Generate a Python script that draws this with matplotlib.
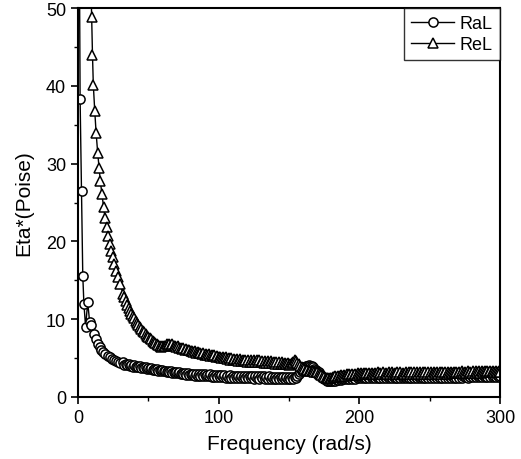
import matplotlib
matplotlib.use("Agg")
import matplotlib.pyplot as plt
from matplotlib.ticker import MultipleLocator

plt.rcParams['font.family'] = ['Liberation Sans', 'DejaVu Sans']

# ---------------- data ----------------
# sparse low-frequency points
ral_freq_low = [0.5, 1.5, 2.5, 3.4, 4.2, 5.4, 6.9, 8.3, 9.6, 11.6, 12.8, 14.0, 15.3,
                16.5, 18.0, 19.5, 21.0, 22.5, 24.0, 25.5, 27.0, 28.5, 30.0]
ral_eta_low = [75.0, 38.3, 26.5, 15.6, 12.0, 9.0, 12.2, 9.6, 9.3, 8.1, 7.5, 6.8, 6.4,
               6.1, 5.8, 5.5, 5.3, 5.1, 4.9, 4.75, 4.6, 4.5, 4.4]

rel_freq_low = [9.0, 9.7, 10.3, 10.9, 11.9, 12.9, 14.0, 15.0, 15.9, 17.0, 18.2, 19.3,
                20.4, 21.3, 22.5, 23.6, 24.7, 25.9, 27.3, 28.6, 30.0]
rel_eta_low = [55.0, 48.8, 44.0, 40.1, 36.8, 33.9, 31.4, 29.4, 27.7, 26.1, 24.4, 23.0,
               21.8, 20.7, 19.7, 18.8, 18.0, 17.1, 16.2, 15.4, 14.5]

# dense sweep 32 ... 300 rad/s (1 rad/s steps)
freq_dense = list(range(32, 301))

ral_eta_dense = [
    4.45, 4.15, 4.3, 4.05, 4.2, 3.95, 4.1, 3.9, 4.05, 3.85,      # 32-41
    3.95, 3.8, 3.95, 3.75, 3.85, 3.7, 3.8, 3.6, 3.75, 3.55,      # 42-51
    3.7, 3.5, 3.6, 3.45, 3.55, 3.4, 3.5, 3.3, 3.45, 3.3,         # 52-61
    3.4, 3.2, 3.35, 3.15, 3.3, 3.1, 3.25, 3.05, 3.2, 3.05,       # 62-71
    3.15, 2.95, 3.1, 2.9, 3.1, 2.85, 3.05, 2.85, 3.0, 2.8,       # 72-81
    3.0, 2.75, 2.95, 2.75, 2.95, 2.7, 2.9, 2.7, 2.9, 2.65,       # 82-91
    2.85, 2.65, 2.9, 2.6, 2.85, 2.6, 2.8, 2.55, 2.85, 2.55,      # 92-101
    2.8, 2.55, 2.8, 2.5, 2.75, 2.5, 2.8, 2.5, 2.75, 2.45,        # 102-111
    2.75, 2.45, 2.7, 2.45, 2.75, 2.4, 2.7, 2.45, 2.7, 2.4,       # 112-121
    2.7, 2.4, 2.65, 2.35, 2.7, 2.4, 2.65, 2.35, 2.65, 2.4,       # 122-131
    2.65, 2.35, 2.6, 2.35, 2.65, 2.3, 2.6, 2.35, 2.6, 2.3,       # 132-141
    2.6, 2.35, 2.6, 2.3, 2.6, 2.3, 2.55, 2.35, 2.6, 2.3,         # 142-151
    2.55, 2.35, 2.6, 2.5, 2.75, 2.9, 3.2, 3.4, 3.7, 3.8,         # 152-161
    4.0, 3.95, 4.1, 4.0, 3.95, 3.8, 3.65, 3.5, 3.3, 3.15,        # 162-171
    3.0, 2.8, 2.5, 2.3, 2.15, 2.05, 2.1, 2.0, 2.1, 2.05,         # 172-181
    2.15, 2.1, 2.2, 2.15, 2.3, 2.2, 2.35, 2.25, 2.4, 2.3,        # 182-191
    2.45, 2.3, 2.5, 2.35, 2.5, 2.35, 2.55, 2.4, 2.55, 2.4,       # 192-201
    2.6, 2.4, 2.6, 2.45, 2.6, 2.4, 2.65, 2.45, 2.6, 2.45,        # 202-211
    2.65, 2.45, 2.6, 2.4, 2.65, 2.45, 2.6, 2.45, 2.65, 2.4,      # 212-221
    2.6, 2.45, 2.65, 2.4, 2.6, 2.45, 2.6, 2.4, 2.65, 2.45,       # 222-231
    2.6, 2.4, 2.6, 2.45, 2.65, 2.45, 2.6, 2.4, 2.6, 2.45,        # 232-241
    2.65, 2.45, 2.6, 2.4, 2.65, 2.45, 2.6, 2.45, 2.65, 2.45,     # 242-251
    2.65, 2.45, 2.7, 2.45, 2.65, 2.5, 2.7, 2.45, 2.65, 2.5,      # 252-261
    2.7, 2.5, 2.7, 2.45, 2.7, 2.5, 2.75, 2.5, 2.7, 2.5,          # 262-271
    2.75, 2.5, 2.7, 2.55, 2.75, 2.5, 2.75, 2.55, 2.7, 2.55,      # 272-281
    2.75, 2.55, 2.8, 2.55, 2.75, 2.55, 2.8, 2.6, 2.75, 2.55,     # 282-291
    2.8, 2.6, 2.8, 2.6, 2.75, 2.6, 2.8, 2.6, 2.75,               # 292-300
]

rel_eta_dense = [
    13.3, 12.8, 12.3, 11.8, 11.4, 11.0, 10.7, 10.4, 10.1, 9.8,   # 32-41
    9.5, 9.25, 9.0, 8.75, 8.5, 8.3, 8.1, 7.9, 7.7, 7.55,         # 42-51
    7.4, 7.25, 7.1, 6.95, 6.8, 6.65, 6.5, 6.45, 6.5, 6.55,       # 52-61
    6.6, 6.75, 6.7, 6.8, 6.7, 6.75, 6.6, 6.6, 6.45, 6.5,         # 62-71
    6.3, 6.35, 6.2, 6.25, 6.1, 6.15, 6.0, 6.05, 5.9, 5.95,       # 72-81
    5.8, 5.85, 5.7, 5.8, 5.6, 5.7, 5.55, 5.65, 5.45, 5.55,       # 82-91
    5.4, 5.5, 5.3, 5.45, 5.25, 5.35, 5.15, 5.3, 5.1, 5.2,        # 92-101
    5.0, 5.15, 4.95, 5.1, 4.85, 5.0, 4.8, 4.95, 4.75, 4.9,       # 102-111
    4.7, 4.9, 4.65, 4.85, 4.6, 4.8, 4.6, 4.8, 4.55, 4.75,        # 112-121
    4.55, 4.75, 4.5, 4.75, 4.5, 4.7, 4.45, 4.7, 4.45, 4.65,      # 122-131
    4.4, 4.65, 4.4, 4.6, 4.35, 4.6, 4.35, 4.55, 4.3, 4.5,        # 132-141
    4.3, 4.5, 4.25, 4.45, 4.2, 4.4, 4.2, 4.35, 4.15, 4.3,        # 142-151
    4.35, 4.5, 4.7, 4.6, 4.4, 4.2, 4.0, 3.85, 3.7, 3.6,          # 152-161
    3.5, 3.45, 3.4, 3.35, 3.3, 3.3, 3.25, 3.25, 3.2, 3.1,        # 162-171
    3.0, 2.85, 2.7, 2.6, 2.5, 2.45, 2.45, 2.5, 2.5, 2.6,         # 172-181
    2.55, 2.7, 2.6, 2.75, 2.65, 2.8, 2.7, 2.85, 2.75, 2.9,       # 182-191
    2.8, 2.95, 2.8, 3.0, 2.85, 3.0, 2.85, 3.05, 2.9, 3.05,       # 192-201
    2.9, 3.1, 2.9, 3.05, 2.95, 3.1, 2.9, 3.1, 2.95, 3.1,         # 202-211
    2.95, 3.15, 2.9, 3.1, 2.95, 3.15, 2.95, 3.1, 2.9, 3.15,      # 212-221
    2.95, 3.15, 2.95, 3.1, 2.95, 3.15, 2.9, 3.15, 2.95, 3.1,     # 222-231
    2.95, 3.15, 2.95, 3.2, 3.0, 3.15, 2.95, 3.2, 3.0, 3.15,      # 232-241
    2.95, 3.2, 3.0, 3.15, 3.0, 3.2, 2.95, 3.2, 3.0, 3.2,         # 242-251
    3.0, 3.2, 3.05, 3.2, 3.0, 3.25, 3.0, 3.2, 3.05, 3.25,        # 252-261
    3.0, 3.25, 3.05, 3.2, 3.05, 3.25, 3.05, 3.25, 3.1, 3.25,     # 262-271
    3.05, 3.3, 3.1, 3.25, 3.05, 3.3, 3.1, 3.25, 3.1, 3.3,        # 272-281
    3.1, 3.3, 3.15, 3.3, 3.1, 3.35, 3.15, 3.3, 3.15, 3.35,       # 282-291
    3.15, 3.35, 3.2, 3.3, 3.15, 3.35, 3.2, 3.35, 3.25,           # 292-300
]

ral_freq = ral_freq_low + freq_dense
ral_eta = ral_eta_low + ral_eta_dense
rel_freq = rel_freq_low + freq_dense
rel_eta = rel_eta_low + rel_eta_dense

x_ticks = [0, 100, 200, 300]
y_ticks = [0, 10, 20, 30, 40, 50]

# ---------------- plot ----------------
fig = plt.figure(figsize=(5.21, 4.60), dpi=100)
ax = fig.add_axes([0.1497, 0.1348, 0.81, 0.8456])

ax.plot(ral_freq, ral_eta, color='black', lw=1.0, marker='o', ms=6.6,
        mfc='white', mec='black', mew=1.1, label='RaL')
ax.plot(rel_freq, rel_eta, color='black', lw=1.0, marker='^', ms=7.6,
        mfc='white', mec='black', mew=1.1, label='ReL')

ax.set_xlim(0, 300)
ax.set_ylim(0, 50)
ax.set_xticks(x_ticks)
ax.set_yticks(y_ticks)
ax.xaxis.set_minor_locator(MultipleLocator(50))
ax.yaxis.set_minor_locator(MultipleLocator(5))
ax.tick_params(which='major', direction='out', length=5, width=1.2,
               labelsize=13, top=False, right=False)
ax.tick_params(which='minor', direction='out', length=3, width=1.0,
               top=False, right=False)
for s in ax.spines.values():
    s.set_linewidth(1.5)

ax.set_xlabel('Frequency (rad/s)', fontsize=15, labelpad=6)
ax.set_ylabel('Eta*(Poise)', fontsize=15, labelpad=9)

leg = ax.legend(loc='upper right', borderaxespad=0.0, fontsize=13,
                handlelength=2.4, frameon=True, fancybox=False,
                borderpad=0.4, labelspacing=0.2, handletextpad=0.3)
leg.get_frame().set_edgecolor('black')
leg.get_frame().set_linewidth(1.0)

fig.savefig('out.png', dpi=100)
